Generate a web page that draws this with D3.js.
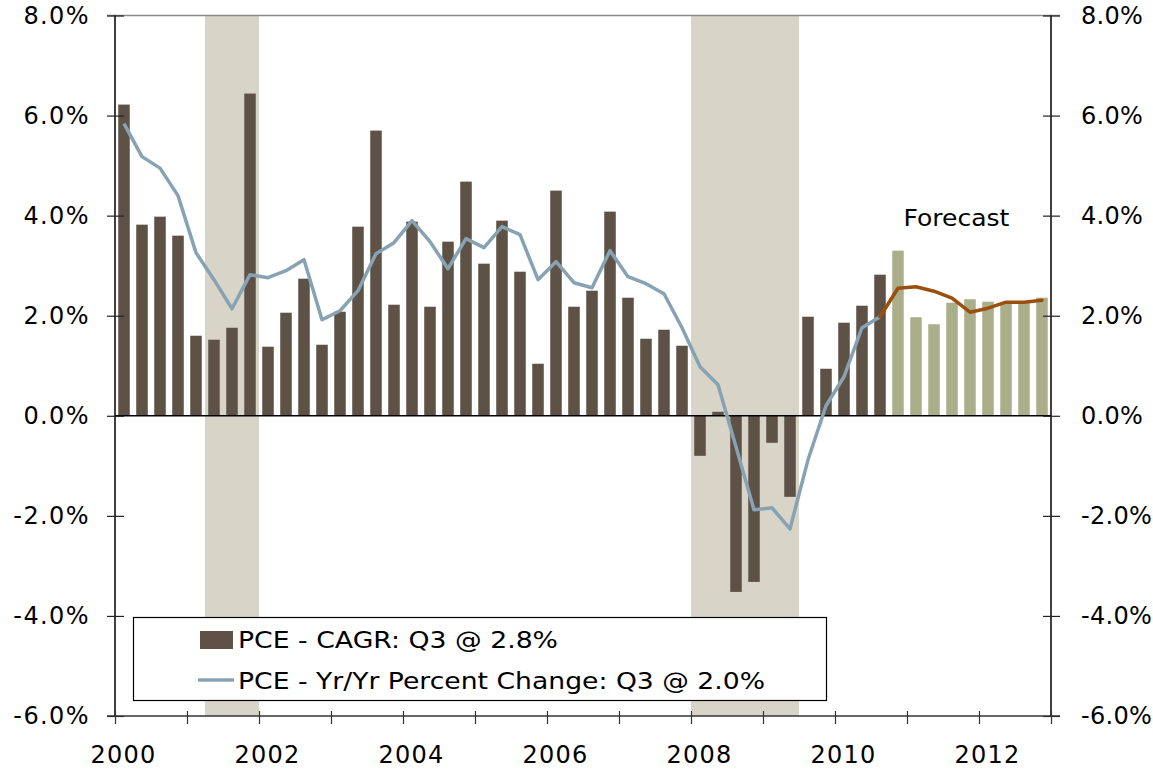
<!DOCTYPE html>
<html><head><meta charset="utf-8">
<script src="https://cdn.jsdelivr.net/npm/d3@7"></script>
<style>
html,body{margin:0;padding:0;background:#fff;}
svg{display:block;font-family:"DejaVu Sans",Verdana,sans-serif;}
</style></head>
<body>
<svg id="chart" width="1153" height="772"></svg>
<script>
// ---- data ----
const years = [2000,2001,2002,2003,2004,2005,2006,2007,2008,2009,2010,2011,2012];
const quarterNames = ["Q1","Q2","Q3","Q4"];
const quarters = years.flatMap(y => quarterNames.map(q => y + q));

// PCE CAGR actual, 2000Q1 - 2010Q3
const cagrActual = [
  6.22, 3.82, 3.98, 3.60,
  1.60, 1.52, 1.76, 6.44,
  1.38, 2.06, 2.74, 1.42,
  2.08, 3.78, 5.70, 2.22,
  3.88, 2.18, 3.48, 4.68,
  3.04, 3.90, 2.88, 1.04,
  4.50, 2.18, 2.50, 4.08,
  2.36, 1.54, 1.72, 1.40,
  -0.80, 0.08, -3.52, -3.32,
  -0.54, -1.62, 1.98, 0.94,
  1.86, 2.20, 2.82
];
// PCE CAGR forecast, 2010Q4 - 2012Q4
const cagrForecast = [3.30, 1.97, 1.83, 2.26, 2.33, 2.28, 2.27, 2.27, 2.36];

// PCE Yr/Yr actual, 2000Q1 - 2010Q3
const yoyActual = [
  5.84, 5.18, 4.95, 4.40,
  3.26, 2.72, 2.14, 2.82,
  2.76, 2.90, 3.12, 1.92,
  2.10, 2.50, 3.24, 3.46,
  3.90, 3.48, 2.94, 3.54,
  3.36, 3.78, 3.62, 2.72,
  3.08, 2.66, 2.56, 3.30,
  2.78, 2.64, 2.44, 1.76,
  0.98, 0.62, -0.62, -1.88,
  -1.84, -2.26, -0.88, 0.20,
  0.78, 1.76, 1.98
];
// PCE Yr/Yr forecast, 2010Q3 - 2012Q4
const yoyForecast = [1.98, 2.55, 2.58, 2.49, 2.35, 2.07, 2.15, 2.27, 2.27, 2.31];

const recessions = [[2001.25, 2002.0], [2008.0, 2009.5]];
const yTicks = [-6, -4, -2, 0, 2, 4, 6, 8];
const xTicks = [2000,2001,2002,2003,2004,2005,2006,2007,2008,2009,2010,2011,2012,2013];
const xLabelYears = [2000, 2002, 2004, 2006, 2008, 2010, 2012];
const legendLabels = ["PCE - CAGR: Q3 @ 2.8%", "PCE - Yr/Yr Percent Change: Q3 @ 2.0%"];
const forecastLabel = "Forecast";

// ---- layout ----
const L = 115, R = 1051, T = 15.5, B = 716;
const colBar = "#5E5247", colFc = "#AAAF8A", colShade = "#D8D4C8",
      colYoy = "#87A2B3", colYoyFc = "#9A4F0C";

const svg = d3.select("#chart");
const x = d3.scaleLinear().domain([2000, 2013]).range([L, R]);
const xb = d3.scaleBand().domain(quarters).range([L, R]).paddingInner(0.36).paddingOuter(0.18);
const y = d3.scaleLinear().domain([-6, 8]).range([B, T]);

const actualData = cagrActual.map((v, i) => ({q: quarters[i], v}));
const fcData = cagrForecast.map((v, i) => ({q: quarters[cagrActual.length + i], v}));
const yoyData = yoyActual.map((v, i) => ({q: quarters[i], v}));
const yoyFcData = yoyForecast.map((v, i) => ({q: quarters[cagrActual.length - 1 + i], v}));

// recession shading
svg.append("g").selectAll("rect").data(recessions).join("rect")
  .attr("x", d => x(d[0])).attr("width", d => x(d[1]) - x(d[0]))
  .attr("y", T).attr("height", B - T).attr("fill", colShade);

// top border
svg.append("line").attr("x1", L - 8).attr("x2", R + 9).attr("y1", T).attr("y2", T)
  .attr("stroke", "#8a8a8a").attr("stroke-width", 1.3);

// bars
const barY = v => Math.min(y(v), y(0));
const barH = v => Math.abs(y(v) - y(0));
svg.append("g").selectAll("rect").data(actualData).join("rect")
  .attr("x", d => xb(d.q)).attr("width", xb.bandwidth())
  .attr("y", d => barY(d.v)).attr("height", d => barH(d.v)).attr("fill", colBar);
svg.append("g").selectAll("rect").data(fcData).join("rect")
  .attr("x", d => xb(d.q)).attr("width", xb.bandwidth())
  .attr("y", d => barY(d.v)).attr("height", d => barH(d.v)).attr("fill", colFc);

// zero line
svg.append("line").attr("x1", L).attr("x2", R).attr("y1", y(0)).attr("y2", y(0))
  .attr("stroke", "#000").attr("stroke-width", 1.5);

// lines
const line = d3.line().x(d => xb(d.q) + xb.bandwidth() / 2).y(d => y(d.v));
svg.append("path").datum(yoyData).attr("d", line).attr("fill", "none")
  .attr("stroke", colYoy).attr("stroke-width", 3.5).attr("stroke-linejoin", "round");
svg.append("path").datum(yoyFcData).attr("d", line).attr("fill", "none")
  .attr("stroke", colYoyFc).attr("stroke-width", 3.5).attr("stroke-linejoin", "round").attr("stroke-linecap", "round");

// axes
const fmt = d => d.toFixed(1) + "%";
const yl = svg.append("g").attr("transform", `translate(${L},0)`)
  .call(d3.axisLeft(y).tickValues(yTicks).tickFormat(fmt).tickSize(8).tickPadding(17));
const yr = svg.append("g").attr("transform", `translate(${R},0)`)
  .call(d3.axisRight(y).tickValues(yTicks).tickFormat(fmt).tickSize(8).tickPadding(22));
[yl, yr].forEach(g => {
  g.select(".domain").attr("stroke", "#000").attr("stroke-width", 1.5).attr("d", `M0,${T}V${B}`);
  g.selectAll(".tick line").attr("x1", -8).attr("x2", 9).attr("stroke", "#222").attr("stroke-width", 1.2);
  g.selectAll(".tick text").attr("font-size", 24).attr("fill", "#000")
    .attr("font-family", '"DejaVu Sans",Verdana,sans-serif');
});
yl.selectAll(".tick text").style("letter-spacing", "1.4px");
yr.selectAll(".tick text").style("letter-spacing", "0.3px");

const xa = svg.append("g").attr("transform", `translate(0,${B})`)
  .call(d3.axisBottom(x).tickValues(xTicks)
    .tickFormat(d => xLabelYears.includes(d) ? String(d) : "").tickSize(8).tickPadding(22));
xa.select(".domain").attr("stroke", "#333").attr("stroke-width", 1.5).attr("d", `M${L - 8},0H${R + 9}`);
xa.selectAll(".tick line").attr("y1", -5).attr("y2", 8).attr("stroke", "#333").attr("stroke-width", 1.2);
xa.selectAll(".tick text").attr("font-size", 24).attr("fill", "#000").attr("dx", 8)
  .attr("font-family", '"DejaVu Sans",Verdana,sans-serif').style("letter-spacing", "1.2px");

// forecast label
svg.append("text").attr("x", x(2010.95)).attr("y", 226).attr("font-size", 23)
  .attr("textLength", 106).attr("lengthAdjust", "spacingAndGlyphs").text(forecastLabel);

// legend
const lg = svg.append("g");
lg.append("rect").attr("x", 133.5).attr("y", 617.5).attr("width", 693).attr("height", 83)
  .attr("fill", "#fff").attr("stroke", "#000").attr("stroke-width", 1.2);
lg.append("rect").attr("x", 200).attr("y", 631).attr("width", 33).attr("height", 18).attr("fill", colBar);
lg.append("line").attr("x1", 198).attr("x2", 234).attr("y1", 680).attr("y2", 680)
  .attr("stroke", colYoy).attr("stroke-width", 3.5);
lg.selectAll("text").data(legendLabels).join("text")
  .attr("x", 238).attr("y", (d, i) => 648 + i * 41).attr("font-size", 23)
  .attr("textLength", (d, i) => i === 0 ? 320 : 527).attr("lengthAdjust", "spacingAndGlyphs")
  .text(d => d);
</script>
</body></html>
